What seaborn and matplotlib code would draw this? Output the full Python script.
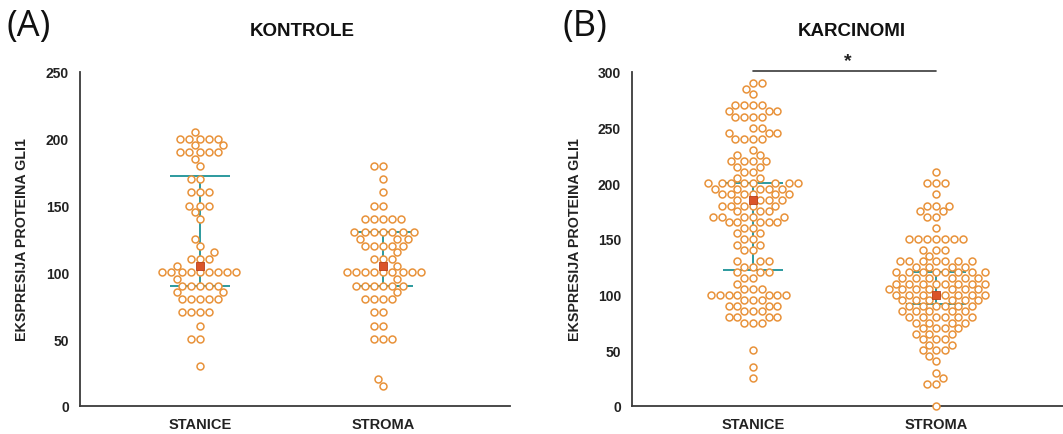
import numpy as np
import pandas as pd
import matplotlib
matplotlib.use("Agg")
import matplotlib.pyplot as plt
import seaborn as sns

sns.set_style("white")
plt.rcParams['font.family'] = ['Liberation Sans', 'DejaVu Sans']

# ---------------- data (value levels and how many dots at each) ----------------
categories = ["STANICE", "STROMA"]

# Panel A - KONTROLE
a_stanice_vals = [205, 200, 195, 190, 185, 180, 170, 160, 150, 145, 140, 125, 120, 115,
                  110, 105, 100, 95, 90, 85, 80, 70, 60, 50, 30]
a_stanice_cnts = [1, 5, 2, 5, 1, 1, 2, 3, 3, 1, 1, 1, 1, 1,
                  3, 1, 9, 1, 5, 2, 5, 4, 1, 2, 1]
a_stroma_vals = [180, 170, 160, 150, 140, 130, 125, 120, 115, 110, 105, 100, 95, 90, 85,
                 80, 70, 60, 50, 20, 15]
a_stroma_cnts = [2, 1, 1, 2, 5, 7, 3, 5, 1, 3, 1, 9, 1, 6, 1,
                 4, 2, 2, 3, 1, 1]

# Panel B - KARCINOMI
b_stanice_vals = [290, 285, 280, 270, 265, 260, 250, 245, 240, 230, 225, 220, 215, 210,
                  205, 200, 195, 190, 185, 180, 175, 170, 165, 160, 155, 150, 145, 140,
                  130, 125, 120, 115, 110, 105, 100, 95, 90, 85, 80, 75, 50, 35, 25]
b_stanice_cnts = [2, 1, 1, 4, 3, 4, 2, 3, 4, 1, 2, 4, 2, 2,
                  2, 8, 5, 6, 4, 5, 3, 5, 5, 2, 2, 2, 2, 2,
                  3, 2, 3, 2, 1, 3, 7, 3, 4, 3, 4, 3, 1, 1, 1]
b_stroma_vals = [210, 200, 190, 180, 175, 170, 160, 150, 140, 135, 130, 125, 120, 115,
                 110, 105, 100, 95, 90, 85, 80, 75, 70, 65, 60, 55, 50, 45, 40,
                 30, 25, 20, 0]
b_stroma_cnts = [1, 3, 1, 3, 2, 2, 1, 7, 3, 1, 7, 4, 8, 6,
                 8, 7, 8, 6, 6, 5, 6, 4, 4, 3, 3, 2, 3, 1, 1,
                 1, 1, 2, 1]

# summary marks: mean (square), quartile lines
a_means = [105, 105]
a_q1 = [90, 90]
a_q3 = [172, 130]
b_means = [185, 100]
b_q1 = [122, 92]
b_q3 = [200, 120]

a_ticks = [0, 50, 100, 150, 200, 250]
b_ticks = [0, 50, 100, 150, 200, 250, 300]

titles = ["KONTROLE", "KARCINOMI"]
panel_tags = ["(A)", "(B)"]
ylabel = "EKSPRESIJA PROTEINA GLI1"

# ---------------- styling ----------------
DOT_EDGE = "#E8923A"
MEAN_COL = "#DA5428"
LINE_COL = "#2C9A9E"
AX_COL = "#3a3a3a"


def build(vals_s, cnts_s, vals_r, cnts_r):
    y = np.concatenate([np.repeat(vals_s, cnts_s), np.repeat(vals_r, cnts_r)])
    x = [categories[0]] * int(np.sum(cnts_s)) + [categories[1]] * int(np.sum(cnts_r))
    return pd.DataFrame({"group": x, "value": y})


dfA = build(a_stanice_vals, a_stanice_cnts, a_stroma_vals, a_stroma_cnts)
dfB = build(b_stanice_vals, b_stanice_cnts, b_stroma_vals, b_stroma_cnts)

W, H = 1063, 435
fig = plt.figure(figsize=(W / 100, H / 100), dpi=100)
axA = fig.add_axes([80 / W, 1 - 407 / H, 430 / W, 334 / H])
axB = fig.add_axes([632 / W, 1 - 407 / H, 431 / W, 334 / H])


def draw(ax, df, means, q1, q3, ticks, ymax, left_px, width_px):
    sns.swarmplot(data=df, x="group", y="value", order=categories, ax=ax,
                  color="white", edgecolor=DOT_EDGE, linewidth=1.1, size=5.0,
                  zorder=3, clip_on=False, warn_thresh=1)
    for i in range(2):
        ax.hlines([q1[i], q3[i]], i - 0.165, i + 0.165, color=LINE_COL, lw=1.4, zorder=2)
        ax.vlines(i, q1[i], q3[i], color=LINE_COL, lw=1.4, zorder=2)
    ax.scatter([0, 1], means, marker="s", s=38, color=MEAN_COL, edgecolor="#B8401C",
               linewidth=0.6, zorder=5)
    ax.set_ylim(0, ymax)
    ax.set_xlim(-left_px / 183, -left_px / 183 + width_px / 183)
    ax.set_yticks(ticks)
    ax.set_xlabel("")
    ax.set_ylabel("")
    for s in ["top", "right"]:
        ax.spines[s].set_visible(False)
    for s in ["left", "bottom"]:
        ax.spines[s].set_color(AX_COL)
        ax.spines[s].set_linewidth(1.3)
    ax.tick_params(axis="both", direction="out", length=5, width=1.2, color=AX_COL,
                   pad=3)
    for lab in ax.get_yticklabels():
        lab.set_fontweight("bold")
        lab.set_fontsize(10)
        lab.set_color("#222222")
    for lab in ax.get_xticklabels():
        lab.set_fontweight("bold")
        lab.set_fontsize(10.5)
        lab.set_color("#222222")
    ax.set_facecolor("none")


draw(axA, dfA, a_means, a_q1, a_q3, a_ticks, 250, 120, 430)
draw(axB, dfB, b_means, b_q1, b_q3, b_ticks, 300, 121, 431)

# significance bar
axB.plot([0, 1], [301, 301], color=AX_COL, lw=1.2, clip_on=False)
axB.text(0.52, 303, "*", ha="center", va="bottom", fontsize=14, fontweight="bold",
         color="#222222")

# y labels
fig.text(22 / W, 1 - 240 / H, ylabel, rotation=90, ha="center", va="center",
         fontsize=10.3, fontweight="bold", color="#222222")
fig.text(575 / W, 1 - 240 / H, ylabel, rotation=90, ha="center", va="center",
         fontsize=10.3, fontweight="bold", color="#222222")

# titles
fig.text(302 / W, 1 - 31 / H, titles[0], ha="center", va="center", fontsize=13.5,
         fontweight="bold", color="#111111")
fig.text(852 / W, 1 - 31 / H, titles[1], ha="center", va="center", fontsize=13.5,
         fontweight="bold", color="#111111")

# panel tags
fig.text(7 / W, 1 - 27 / H, panel_tags[0], ha="left", va="center", fontsize=26,
         family=["Open Sans", "DejaVu Sans"], color="#111111")
fig.text(562 / W, 1 - 27 / H, panel_tags[1], ha="left", va="center", fontsize=26,
         family=["Open Sans", "DejaVu Sans"], color="#111111")

fig.savefig("out.png", dpi=100, facecolor="white")
